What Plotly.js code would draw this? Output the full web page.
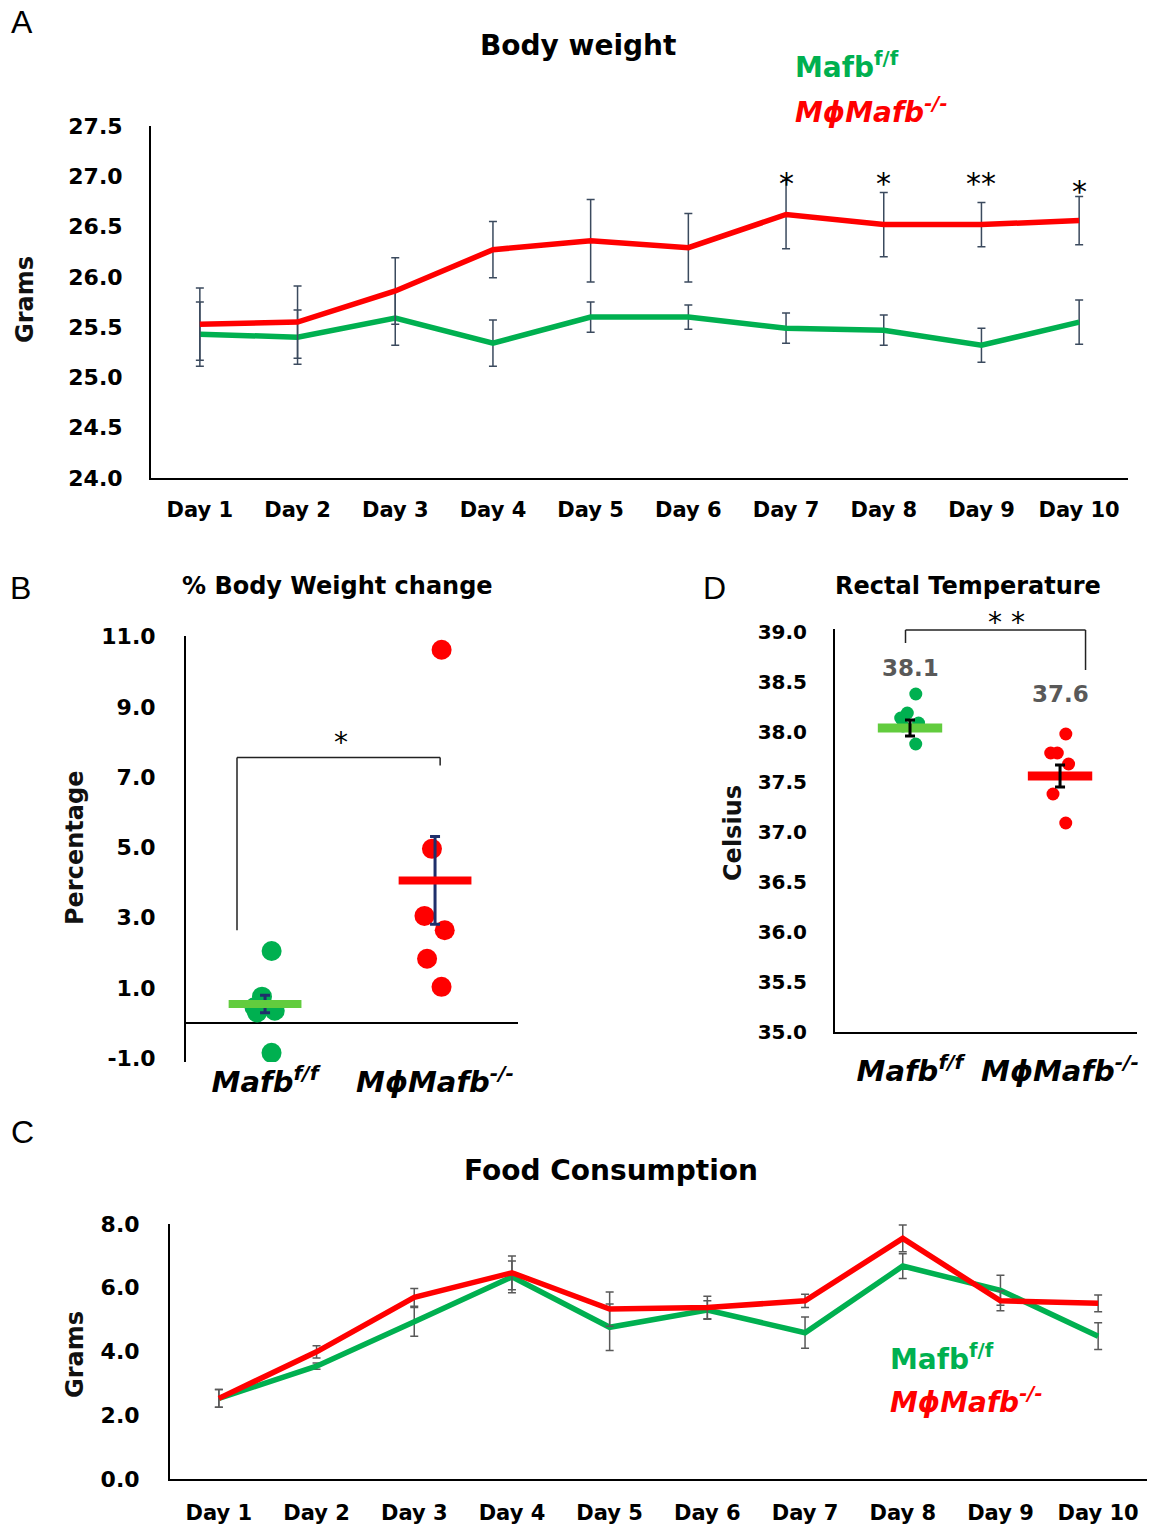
<!DOCTYPE html>
<html>
<head>
<meta charset="utf-8">
<script src="https://cdn.plot.ly/plotly-3.0.1.min.js"></script>
<style>html,body{margin:0;padding:0;background:#fff;}#chart{width:1169px;height:1535px;}</style>
</head>
<body>
<div id="chart"></div>
<script>
// ---------- data ----------
const days = ['Day 1','Day 2','Day 3','Day 4','Day 5','Day 6','Day 7','Day 8','Day 9','Day 10'];

// Panel A: body weight (g)
const bwWT    = [25.43,25.40,25.59,25.34,25.60,25.60,25.49,25.47,25.32,25.55];
const bwWTerr = [0.32,0.27,0.27,0.23,0.15,0.12,0.15,0.15,0.17,0.22];
const bwKO    = [25.53,25.55,25.86,26.27,26.36,26.29,26.62,26.52,26.52,26.56];
const bwKOerr = [0.36,0.36,0.33,0.28,0.41,0.34,0.34,0.32,0.22,0.24];
const bwSig   = ['','','','','','','*','*','**','*'];
const bwSigY  = [null,null,null,null,null,null,26.93,26.93,26.93,26.85];

// Panel B: % body weight change
const groups  = ['<i>Mafb</i><sup>f/f</sup>', '<i>MϕMafb</i><sup>-/-</sup>'];
const pctWT   = [2.05,0.75,0.45,0.30,0.35,-0.85];
const pctKO   = [10.63,4.96,3.05,2.64,1.83,1.03];
const pctMean = [0.54,4.06];
const pctSE   = [0.25,1.25];
const pctTicks = [-1,1,3,5,7,9,11];

// Panel D: rectal temperature
const tempWT    = [38.38,38.19,38.14,38.09,38.06,37.88];
const tempKO    = [37.98,37.79,37.79,37.68,37.38,37.09];
const tempMean  = [38.04,37.56];
const tempSE    = [0.08,0.11];
const tempLabel = ['38.1','37.6'];

// Panel C: food consumption (g)
const fcWT    = [2.53,3.54,4.93,6.34,4.76,5.30,4.59,6.68,5.92,4.48];
const fcWTerr = [0.28,0.10,0.45,0.50,0.73,0.29,0.49,0.39,0.47,0.42];
const fcKO    = [2.53,3.99,5.70,6.47,5.33,5.38,5.59,7.55,5.59,5.51];
const fcKOerr = [0.28,0.19,0.28,0.53,0.54,0.35,0.21,0.42,0.31,0.26];

// ---------- styling ----------
const W = 1169, H = 1535;
const GREEN = '#00b050', RED = '#ff0000', LGREEN = '#62cc3e';
const FONT = 'DejaVu Sans';
const px = x => x / W;
const py = y => 1 - y / H;

const traces = [];

// Panel A
traces.push({type:'scatter', mode:'lines', x:days, y:bwWT, xaxis:'x', yaxis:'y',
  line:{color:GREEN, width:5.5},
  error_y:{type:'data', array:bwWTerr, color:'#3b4a5e', thickness:1.5, width:4}, hoverinfo:'skip'});
traces.push({type:'scatter', mode:'lines', x:days, y:bwKO, xaxis:'x', yaxis:'y',
  line:{color:RED, width:5.5},
  error_y:{type:'data', array:bwKOerr, color:'#3b4a5e', thickness:1.5, width:4}, hoverinfo:'skip'});

// Panel B
traces.push({type:'scatter', mode:'markers', x:groups, y:pctMean, xaxis:'x2', yaxis:'y2',
  marker:{symbol:'line-ew', size:52, color:[LGREEN,RED], line:{color:[LGREEN,RED], width:8}},
  error_y:{type:'data', array:pctSE, color:'#1f2f6b', thickness:3, width:5}, hoverinfo:'skip'});
[[pctWT, GREEN, groups[0]], [pctKO, RED, groups[1]]].forEach(([vals, col, g]) => {
  traces.push({type:'box', x:vals.map(() => g), y:vals, xaxis:'x2', yaxis:'y2',
    boxpoints:'all', jitter:0.3, pointpos:0, fillcolor:'rgba(0,0,0,0)', line:{width:0, color:'rgba(0,0,0,0)'},
    marker:{color:col, size:20}, hoverinfo:'skip', showlegend:false});
});

// Panel D
traces.push({type:'scatter', mode:'markers', x:groups, y:tempMean, xaxis:'x3', yaxis:'y3',
  marker:{symbol:'line-ew', size:46, color:[LGREEN,RED], line:{color:[LGREEN,RED], width:9}},
  hoverinfo:'skip'});
[[tempWT, GREEN, groups[0]], [tempKO, RED, groups[1]]].forEach(([vals, col, g]) => {
  traces.push({type:'box', x:vals.map(() => g), y:vals, xaxis:'x3', yaxis:'y3',
    boxpoints:'all', jitter:0.3, pointpos:0, fillcolor:'rgba(0,0,0,0)', line:{width:0, color:'rgba(0,0,0,0)'},
    marker:{color:col, size:13}, hoverinfo:'skip', showlegend:false});
});
traces.push({type:'scatter', mode:'markers', x:groups, y:tempMean, xaxis:'x3', yaxis:'y3',
  marker:{size:1, color:'rgba(0,0,0,0)'},
  error_y:{type:'data', array:tempSE, color:'#000', thickness:3, width:5}, hoverinfo:'skip'});

// Panel C
traces.push({type:'scatter', mode:'lines', x:days, y:fcWT, xaxis:'x4', yaxis:'y4',
  line:{color:GREEN, width:5.5},
  error_y:{type:'data', array:fcWTerr, color:'#595959', thickness:1.5, width:4}, hoverinfo:'skip'});
traces.push({type:'scatter', mode:'lines', x:days, y:fcKO, xaxis:'x4', yaxis:'y4',
  line:{color:RED, width:5.5},
  error_y:{type:'data', array:fcKOerr, color:'#595959', thickness:1.5, width:4}, hoverinfo:'skip'});

const tickX = {family:FONT, size:21, weight:'bold', color:'#000'};
const catFont = {family:FONT, size:29, weight:'bold', style:'italic', color:'#000'};
const base = {showgrid:false, zeroline:false, ticks:'', showline:true, linecolor:'#000', linewidth:2, fixedrange:true};

function ann(text, x, y, font, extra) {
  return Object.assign({xref:'paper', yref:'paper', x:px(x), y:py(y), text:text, showarrow:false,
    xanchor:'center', yanchor:'middle', font:font}, extra || {});
}
const titleFont = s => ({family:FONT, size:s, weight:'bold', color:'#000'});
const letterFont = {family:'Liberation Sans', size:32, color:'#000'};
const axTitleFont = {family:FONT, size:24, weight:'bold', color:'#111'};
const legG = {family:FONT, size:28, weight:'bold', color:GREEN};
const legR = {family:FONT, size:28, weight:'bold', style:'italic', color:RED};

const annotations = [
  ann('A', 22, 22, letterFont), ann('B', 20, 588, letterFont),
  ann('C', 22, 1132, letterFont), ann('D', 714, 588, letterFont),
  ann('Body weight', 578, 46, titleFont(28)),
  ann('% Body Weight change', 337, 586, titleFont(24)),
  ann('Rectal Temperature', 968, 586, titleFont(24)),
  ann('Food Consumption', 611, 1170, titleFont(28)),
  ann('Grams', 25, 300, axTitleFont, {textangle:-90}),
  ann('Percentage', 75, 848, axTitleFont, {textangle:-90}),
  ann('Celsius', 733, 833, axTitleFont, {textangle:-90}),
  ann('Grams', 75, 1355, axTitleFont, {textangle:-90}),
  ann('Mafb<sup>f/f</sup>', 793, 66, legG, {xanchor:'left'}),
  ann('MϕMafb<sup>-/-</sup>', 793, 110, legR, {xanchor:'left'}),
  ann('Mafb<sup>f/f</sup>', 888, 1357, legG, {xanchor:'left'}),
  ann('MϕMafb<sup>-/-</sup>', 888, 1400, legR, {xanchor:'left'}),
  // significance in B and D
  ann('*', 341, 742, {family:FONT, size:28, color:'#000'}),
  ann('* *', 1006, 622, {family:FONT, size:28, color:'#000'}),
];
bwSig.forEach((s, i) => {
  if (s) annotations.push({xref:'x', yref:'y', x:days[i], y:bwSigY[i], text:s, showarrow:false,
    font:{family:FONT, size:30, color:'#000'}});
});
tempLabel.forEach((t, i) => {
  annotations.push({xref:'x3', yref:'y3', x:groups[i], y:tempMean[i], yshift:[60,82][i], text:t, showarrow:false,
    font:{family:FONT, size:23, weight:'bold', color:'#595959'}});
});

const lineStyle = {color:'#222', width:1.5};
const shapes = [
  // B bracket
  {type:'line', xref:'x2', yref:'y2', x0:-0.165, x1:-0.165, y0:2.64, y1:7.56, line:lineStyle},
  {type:'line', xref:'x2', yref:'y2', x0:-0.165, x1:1.03, y0:7.56, y1:7.56, line:lineStyle},
  {type:'line', xref:'x2', yref:'y2', x0:1.03, x1:1.03, y0:7.56, y1:7.33, line:lineStyle},
  // D bracket
  {type:'line', xref:'x3', yref:'y3', x0:-0.03, x1:-0.03, y0:38.89, y1:39.02, line:lineStyle},
  {type:'line', xref:'x3', yref:'y3', x0:-0.03, x1:1.17, y0:39.02, y1:39.02, line:lineStyle},
  {type:'line', xref:'x3', yref:'y3', x0:1.17, x1:1.17, y0:39.02, y1:38.62, line:lineStyle},
];

const layout = {
  width:W, height:H, margin:{l:0, r:0, t:0, b:0}, paper_bgcolor:'#fff', plot_bgcolor:'rgba(0,0,0,0)',
  showlegend:false, boxmode:'overlay',
  xaxis: Object.assign({}, base, {domain:[px(151), px(1128)], anchor:'y', type:'category', range:[-0.5, 9.5],
    tickfont:tickX, ticklabelstandoff:12}),
  yaxis: Object.assign({}, base, {domain:[py(478), py(126)], anchor:'x', range:[24, 27.5], dtick:0.5, tick0:24,
    tickformat:'.1f', tickfont:{family:FONT, size:22, weight:'bold', color:'#000'}, ticklabelstandoff:22}),
  xaxis2: Object.assign({}, base, {domain:[px(186), px(518)], anchor:'y2', type:'category', range:[-0.465, 1.488],
    showline:false, tickfont:catFont, ticklabelstandoff:0}),
  yaxis2: Object.assign({}, base, {domain:[py(1062), py(636)], anchor:'x2', range:[-1.11, 11.02],
    tickmode:'array', tickvals:pctTicks, ticktext:pctTicks.map(v => v.toFixed(1)),
    tickfont:{family:FONT, size:22, weight:'bold', color:'#000'}, ticklabelstandoff:24,
    zeroline:true, zerolinecolor:'#000', zerolinewidth:2.5}),
  xaxis3: Object.assign({}, base, {domain:[px(835), px(1137)], anchor:'y3', type:'category', range:[-0.5, 1.513],
    tickfont:catFont, ticklabelstandoff:12}),
  yaxis3: Object.assign({}, base, {domain:[py(1032), py(629)], anchor:'x3', range:[35, 39.03], dtick:0.5, tick0:35,
    tickformat:'.1f', tickfont:{family:FONT, size:20, weight:'bold', color:'#000'}, ticklabelstandoff:22}),
  xaxis4: Object.assign({}, base, {domain:[px(170), px(1147)], anchor:'y4', type:'category', range:[-0.5, 9.5],
    tickfont:tickX, ticklabelstandoff:14}),
  yaxis4: Object.assign({}, base, {domain:[py(1479), py(1224)], anchor:'x4', range:[0, 8], dtick:2, tick0:0,
    tickformat:'.1f', tickfont:{family:FONT, size:22, weight:'bold', color:'#000'}, ticklabelstandoff:24}),
  annotations: annotations,
  shapes: shapes,
};

Plotly.newPlot('chart', traces, layout, {staticPlot:true, displayModeBar:false});
</script>
</body>
</html>
